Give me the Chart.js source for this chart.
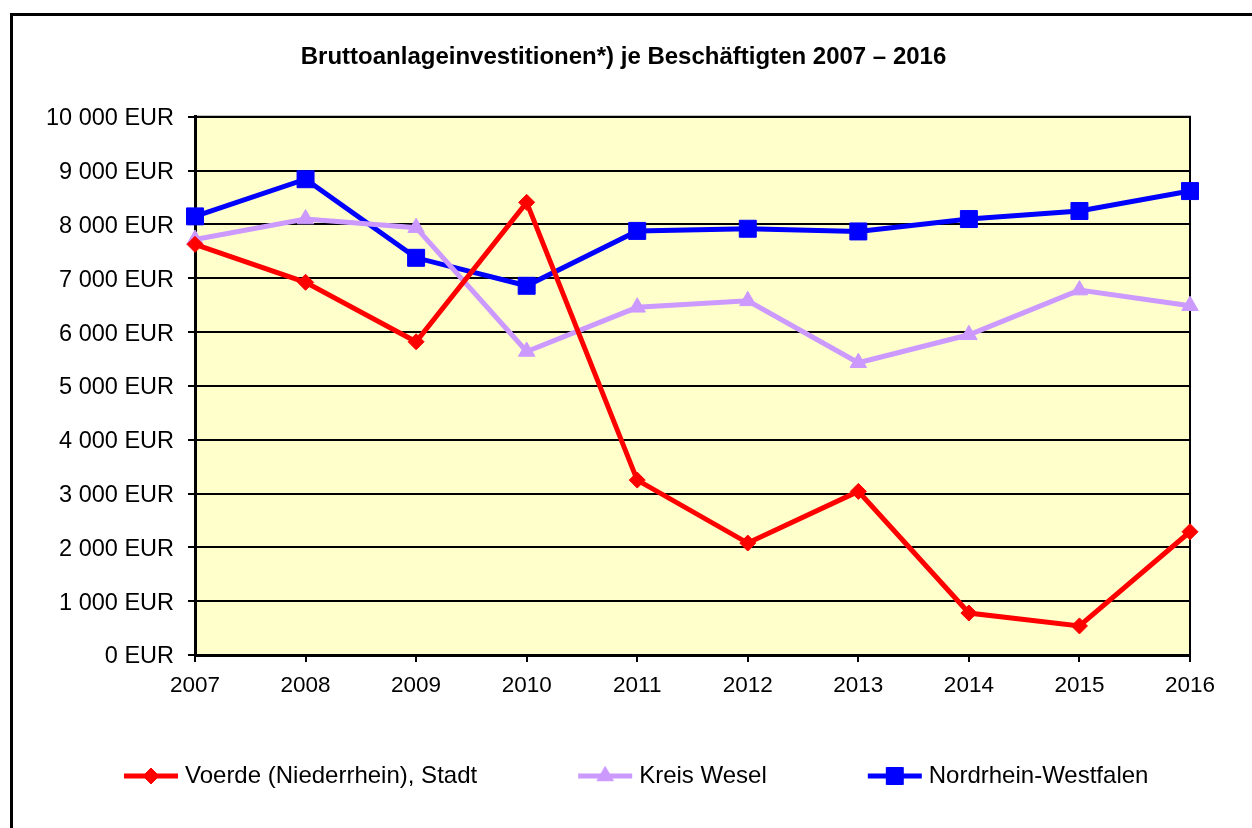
<!DOCTYPE html>
<html>
<head>
<meta charset="utf-8">
<script src="https://cdn.jsdelivr.net/npm/chart.js@4.4.1/dist/chart.umd.min.js"></script>
<style>
    html, body { margin: 0; padding: 0; background: #fff; overflow: hidden; }
    #frame {
        position: absolute; left: 10px; top: 13px;
        width: 1300px; height: 900px;
        border: 3px solid #000;
    }
    #wrap { position: absolute; left: 0; top: 0; width: 1252px; height: 828px; }
</style>
</head>
<body>
<div id="frame"></div>
<div id="wrap"><canvas id="chart"></canvas></div>
<script>
// Data
const years = ['2007', '2008', '2009', '2010', '2011', '2012', '2013', '2014', '2015', '2016'];
const voerde = [7630, 6925, 5820, 8410, 3250, 2080, 3040, 780, 540, 2290];
const wesel = [7720, 8100, 7940, 5640, 6460, 6580, 5430, 5950, 6780, 6490];
const nrw = [8150, 8840, 7380, 6860, 7880, 7920, 7870, 8100, 8250, 8620];

const seriesNames = ['Voerde (Niederrhein), Stadt', 'Kreis Wesel', 'Nordrhein-Westfalen'];
const titleText = 'Bruttoanlageinvestitionen*) je Beschäftigten 2007 – 2016';

const FONT = "'Liberation Sans', Arial, sans-serif";

// Legend icon: line with marker; the box is wider than the line so the
// transparent left part gives the gap between legend entries
const ICON_W = 140;
const LINE_LEN = 54;

function makeIcon(s) {
    const c = document.createElement('canvas');
    c.width = ICON_W + 12;
    c.height = 26;
    const g = c.getContext('2d');
    const y = 13;
    const x1 = c.width - 1;
    const x0 = x1 - LINE_LEN;
    g.strokeStyle = s.color;
    g.lineWidth = 5;
    g.beginPath();
    g.moveTo(x0, y);
    g.lineTo(x1, y);
    g.stroke();
    g.fillStyle = s.color;
    g.lineWidth = 1;
    Chart.helpers.drawPoint(g, {
        pointStyle: s.style,
        radius: s.radius,
        rotation: 0,
        borderWidth: 1
    }, (x0 + x1) / 2, y);
    return c;
}

function fmtEur(v) {
    return String(v).replace(/\B(?=(\d{3})+(?!\d))/g, ' ') + ' EUR';
}

const styles = [
    { color: '#FF0000', style: 'rectRot', radius: 8 },
    { color: '#CC99FF', style: 'triangle', radius: 9.5 },
    { color: '#0000FF', style: 'rect', radius: 12 }
];

const icons = styles.map(makeIcon);

function makeDataset(label, data, s) {
    return {
        label: label,
        data: data,
        borderColor: s.color,
        backgroundColor: s.color,
        borderWidth: 5,
        pointStyle: s.style,
        pointRadius: s.radius,
        pointHoverRadius: s.radius,
        pointBorderWidth: 1,
        tension: 0,
        fill: false
    };
}

// Plot area background and frame
const plotFrame = {
    id: 'plotFrame',
    beforeDraw(chart) {
        const a = chart.chartArea;
        const ctx = chart.ctx;
        ctx.save();
        ctx.fillStyle = '#FFFFCC';
        ctx.fillRect(a.left, a.top, a.right - a.left, a.bottom - a.top);
        ctx.restore();
    },
    beforeDatasetsDraw(chart) {
        const a = chart.chartArea;
        const ctx = chart.ctx;
        ctx.save();
        ctx.strokeStyle = '#000';
        ctx.lineWidth = 2;
        ctx.beginPath();
        ctx.moveTo(a.left, a.top);
        ctx.lineTo(a.right, a.top);
        ctx.lineTo(a.right, a.bottom);
        ctx.stroke();
        ctx.restore();
    }
};

new Chart(document.getElementById('chart'), {
    type: 'line',
    data: {
        labels: years,
        datasets: [
            makeDataset(seriesNames[0], voerde, styles[0]),
            makeDataset(seriesNames[1], wesel, styles[1]),
            makeDataset(seriesNames[2], nrw, styles[2])
        ]
    },
    options: {
        responsive: true,
        maintainAspectRatio: false,
        animation: false,
        layout: {
            padding: { left: 23, right: 28, top: 0, bottom: 30 }
        },
        plugins: {
            title: {
                display: true,
                text: titleText,
                color: '#000',
                font: { size: 24, weight: 'bold', family: FONT },
                padding: { top: 43, bottom: 45 }
            },
            legend: {
                display: true,
                position: 'bottom',
                align: 'start',
                labels: {
                    usePointStyle: true,
                    pointStyleWidth: ICON_W,
                    padding: 10,
                    color: '#000',
                    font: { size: 24, family: FONT },
                    generateLabels(chart) {
                        const items = Chart.defaults.plugins.legend.labels.generateLabels(chart);
                        items.forEach((it, i) => { it.pointStyle = icons[i]; });
                        return items;
                    }
                }
            },
            tooltip: { enabled: false }
        },
        scales: {
            x: {
                type: 'category',
                offset: false,
                afterFit(scale) { scale.height = 99; },
                border: { display: true, color: '#000', width: 3 },
                grid: {
                    drawOnChartArea: false,
                    drawTicks: true,
                    tickLength: 7,
                    color: '#000',
                    lineWidth: 2
                },
                ticks: {
                    color: '#000',
                    padding: 10,
                    maxRotation: 0,
                    autoSkip: false,
                    font: { size: 22.5, family: FONT }
                }
            },
            y: {
                min: 0,
                max: 10000,
                afterFit(scale) { scale.width = 172; },
                border: { display: true, color: '#000', width: 3 },
                grid: {
                    color: '#000',
                    lineWidth: 2,
                    drawTicks: true,
                    tickLength: 7
                },
                ticks: {
                    stepSize: 1000,
                    color: '#000',
                    padding: 14,
                    labelOffset: 2,
                    font: { size: 23.5, family: FONT },
                    callback: function (value) {
                        return fmtEur(value);
                    }
                }
            },
            // empty spacer on the right so the title centres like the original
            spacer: {
                position: 'right',
                display: true,
                afterFit(scale) { scale.width = 34; },
                border: { display: false },
                grid: { display: false },
                ticks: { display: false }
            }
        }
    },
    plugins: [plotFrame]
});
</script>
</body>
</html>
